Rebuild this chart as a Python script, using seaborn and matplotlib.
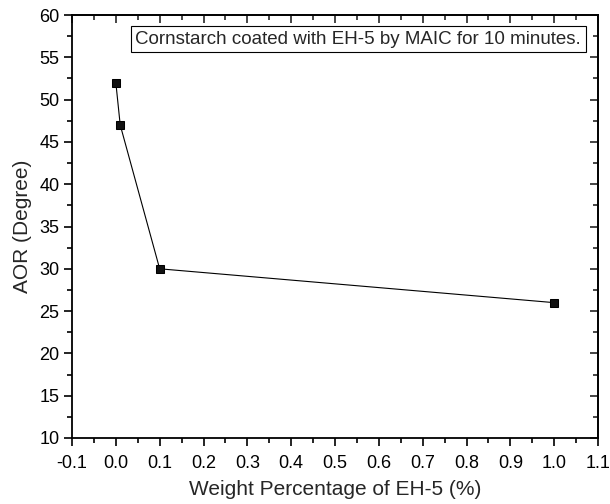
import matplotlib
matplotlib.use("Agg")
import matplotlib.pyplot as plt
import seaborn as sns
import pandas as pd
from matplotlib.ticker import MultipleLocator

weight_pct = [0.0, 0.01, 0.1, 1.0]
aor_deg = [52, 47, 30, 26]
x_label = "Weight Percentage of EH-5 (%)"
y_label = "AOR (Degree)"
note = "Cornstarch coated with EH-5 by MAIC for 10 minutes."

sns.set_theme(style="ticks")
plt.rcParams['font.family'] = ['Liberation Sans', 'DejaVu Sans']

df = pd.DataFrame({"x": weight_pct, "y": aor_deg})

fig = plt.figure(figsize=(6.10, 5.04), dpi=100)
ax = fig.add_axes([72/610, 1-438/504, (598-72)/610, (438-15)/504])

sns.lineplot(data=df, x="x", y="y", ax=ax, color="black", linewidth=0.8,
             marker="s", markersize=6.2, markeredgecolor="black", markerfacecolor="#111111")

ax.set_xlim(-0.1, 1.1)
ax.set_ylim(10, 60)
ax.xaxis.set_major_locator(MultipleLocator(0.1))
ax.xaxis.set_minor_locator(MultipleLocator(0.05))
ax.yaxis.set_major_locator(MultipleLocator(5))
ax.yaxis.set_minor_locator(MultipleLocator(2.5))
ax.set_xticklabels([f"{v:.1f}" for v in ax.get_xticks()])
ax.set_xlim(-0.1, 1.1)

for s in ax.spines.values():
    s.set_linewidth(1.3)
    s.set_color("black")

ax.tick_params(axis="both", which="both", direction="out", width=1.2, colors="black",
               labelsize=13, top=False, right=False)
ax.tick_params(axis="x", pad=6)
ax.tick_params(axis="y", pad=3)
ax.tick_params(which="major", length=6)
ax.tick_params(which="minor", length=3.5)

# inward ticks on top and right
axt = ax.secondary_xaxis("top")
axt.xaxis.set_major_locator(MultipleLocator(0.1))
axt.xaxis.set_minor_locator(MultipleLocator(0.05))
axt.tick_params(which="both", direction="in", width=1.2, labeltop=False)
axt.tick_params(which="major", length=6)
axt.tick_params(which="minor", length=3.5)
axt.spines["top"].set_linewidth(1.3)
axr = ax.secondary_yaxis("right")
axr.yaxis.set_major_locator(MultipleLocator(5))
axr.yaxis.set_minor_locator(MultipleLocator(2.5))
axr.tick_params(which="both", direction="in", width=1.2, labelright=False)
axr.tick_params(which="major", length=6)
axr.tick_params(which="minor", length=3.5)
axr.spines["right"].set_linewidth(1.3)

ax.set_xlabel(x_label, fontsize=15, labelpad=6)
ax.set_ylabel(y_label, fontsize=15, labelpad=5)

ax.text(0.968, 0.963, note, transform=ax.transAxes, ha="right", va="top", fontsize=13.5,
        bbox=dict(boxstyle="square,pad=0.25", facecolor="white", edgecolor="black", linewidth=0.8))

fig.savefig("out.png", dpi=100)
